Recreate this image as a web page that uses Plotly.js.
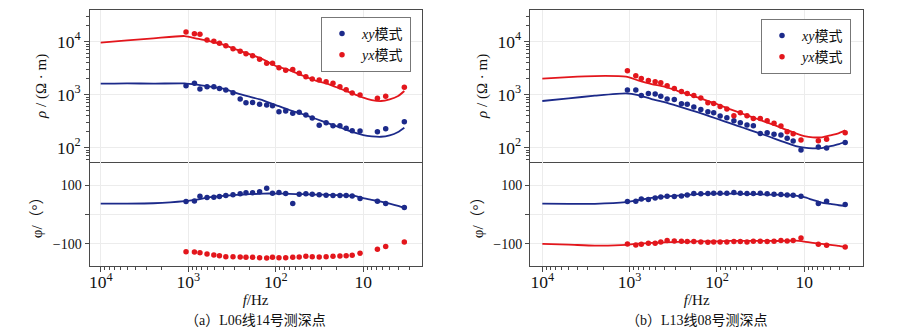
<!DOCTYPE html>
<html><head><meta charset="utf-8">
<script src="https://cdn.plot.ly/plotly-3.0.1.min.js"></script>
<style>html,body{margin:0;padding:0;background:#fff}#chart{width:900px;height:331px}</style>
</head><body><div id="chart"></div>
<script>
// measured frequencies (Hz)
const freq = [1060, 850, 735, 610, 510, 440, 372, 308, 255, 219, 184, 153, 127, 109, 92, 77, 64, 54, 45.3, 38.3, 31.9, 26.6, 22.2, 18.5, 15.7, 13.4, 10.9, 6.9, 5.55, 3.4];
// model frequencies (Hz)
const freqModel = [10000, 5000, 2500, 1100, 800, 560, 400, 280, 200, 140, 100, 70, 50, 35, 25, 18, 12.5, 10, 8, 6.3, 5, 4, 3.4];

// (a) L06-14
const aRhoXY = [1480, 1640, 1280, 1415, 1415, 1315, 1225, 1090, 828, 706, 716, 657, 638, 620, 477, 492, 445, 465, 413, 363, 264, 296, 260, 260, 232, 209, 206, 200, 228, 310];
const aRhoYX = [15200, 14150, 13750, 10750, 10150, 9300, 8400, 7390, 6570, 5940, 5450, 4640, 3900, 3900, 3230, 2880, 3000, 2530, 2190, 1980, 1890, 1760, 1640, 1415, 1240, 1075, 985, 853, 930, 1375];
const aPhiXY = [44.3, 46.6, 62.5, 58.0, 59.1, 61.4, 64.8, 67.1, 70.5, 73.9, 73.9, 77.3, 89.8, 72.7, 75.0, 71.6, 37.5, 69.3, 70.5, 69.3, 67.1, 65.9, 64.8, 64.8, 64.8, 63.6, 54.6, 45.5, 37.5, 23.9];
const aPhiYX = [-126.1, -127.3, -129.5, -134.0, -137.4, -139.7, -143.1, -143.1, -144.3, -145.5, -145.5, -146.6, -147.7, -145.5, -146.6, -146.6, -145.5, -144.3, -142.0, -143.1, -144.3, -143.1, -142.0, -140.9, -139.7, -138.6, -131.8, -118.1, -109.0, -93.1];
const aModRhoXY = [1614, 1637, 1614, 1637, 1545, 1415, 1298, 1074, 916, 782, 638, 514, 432, 352, 288, 238, 192, 173, 164, 161, 171, 198, 238];
const aModRhoYX = [9580, 10600, 11560, 12790, 11390, 10150, 8770, 7060, 5850, 4640, 3480, 2920, 2320, 1840, 1590, 1280, 1015, 877, 793, 760, 817, 944, 1173];
const aModPhiXY = [37.5, 37.5, 38.6, 45.5, 51.1, 59.1, 63.6, 67.0, 69.3, 71.6, 71.6, 70.5, 69.3, 68.2, 67.0, 65.9, 63.6, 55.7, 50.0, 44.3, 37.5, 29.6, 22.7];

// (b) L13-08
const bRhoXY = [1225, 1225, 970, 1059, 1030, 931, 829, 816, 676, 657, 585, 528, 477, 457, 395, 368, 323, 296, 268, 260, 186, 192, 179, 173, 150, 134, 90.4, 103, 98.6, 126];
const bRhoYX = [2840, 2280, 2030, 1862, 1757, 1683, 1478, 1316, 1155, 1059, 970, 865, 706, 686, 602, 537, 402, 457, 402, 357, 357, 323, 288, 256, 200, 184, 140, 136, 144, 192];
const bPhiXY = [44.3, 45.5, 53.4, 51.1, 56.8, 60.2, 62.5, 61.4, 63.6, 67.0, 71.6, 70.5, 71.6, 72.7, 72.7, 72.7, 75.0, 72.7, 71.6, 71.6, 72.7, 70.5, 69.3, 68.2, 67.0, 65.9, 62.5, 37.5, 45.5, 34.1];
const bPhiYX = [-100.0, -103.4, -101.1, -97.7, -97.7, -93.2, -88.6, -89.8, -90.9, -92.0, -92.0, -93.2, -94.3, -93.2, -93.2, -93.2, -92.0, -92.0, -93.2, -90.9, -90.9, -92.0, -90.9, -88.6, -89.8, -88.6, -79.5, -101.1, -104.5, -110.2];
const bModRhoXY = [760, 853, 957, 1059, 986, 829, 727, 611, 514, 426, 352, 288, 238, 195, 161, 132, 107, 100, 97, 98.5, 107, 117, 128];
const bModRhoYX = [2005, 2150, 2250, 2188, 1862, 1588, 1415, 1172, 986, 805, 667, 528, 432, 352, 288, 235, 186, 166, 157, 157, 171, 189, 212];
const bModPhiXY = [37.5, 36.4, 36.4, 42.1, 48.9, 56.8, 61.4, 64.8, 68.2, 70.5, 71.6, 71.6, 70.5, 69.3, 68.2, 67.0, 64.8, 59.1, 50.0, 40.9, 36.4, 31.8, 29.6];
const bModPhiYX = [-100.0, -102.3, -105.6, -103.4, -98.9, -96.6, -94.3, -93.2, -92.0, -90.9, -90.9, -89.8, -89.8, -89.8, -89.8, -89.8, -88.6, -92.0, -96.6, -100.0, -103.4, -106.8, -110.2];

const seriesNames = ['<i>xy</i>模式', '<i>yx</i>模式'];
const captions = ['（a）L06线14号测深点', '（b）L13线08号测深点'];
const phiTickVals = [-100, 100];
const phiTickText = ['−100', '100'];

const BLUE = '#1c2a8a', RED = '#e3161c';
const FONT = 'Liberation Serif, Times New Roman, Noto Sans CJK SC, serif';

function pts(x, y, xa, ya, color, name, legend, show) {
  return {x: x, y: y, xaxis: xa, yaxis: ya, type: 'scatter', mode: 'markers', name: name,
    marker: {color: color, size: 5.5}, showlegend: show, legend: legend, hoverinfo: 'skip'};
}
function line(x, y, xa, ya, color) {
  return {x: x, y: y, xaxis: xa, yaxis: ya, type: 'scatter', mode: 'lines',
    line: {color: color, width: 1.8, shape: 'spline', smoothing: 0.6}, showlegend: false, hoverinfo: 'skip'};
}

const data = [
  line(freqModel, aModRhoXY, 'x', 'y', BLUE),
  line(freqModel, aModRhoYX, 'x', 'y', RED),
  pts(freq, aRhoXY, 'x', 'y', BLUE, seriesNames[0], 'legend', true),
  pts(freq, aRhoYX, 'x', 'y', RED, seriesNames[1], 'legend', true),
  line(freqModel, aModPhiXY, 'x2', 'y2', BLUE),
  pts(freq, aPhiXY, 'x2', 'y2', BLUE, seriesNames[0], 'legend', false),
  pts(freq, aPhiYX, 'x2', 'y2', RED, seriesNames[1], 'legend', false),

  line(freqModel, bModRhoXY, 'x3', 'y3', BLUE),
  line(freqModel, bModRhoYX, 'x3', 'y3', RED),
  pts(freq, bRhoXY, 'x3', 'y3', BLUE, seriesNames[0], 'legend2', true),
  pts(freq, bRhoYX, 'x3', 'y3', RED, seriesNames[1], 'legend2', true),
  line(freqModel, bModPhiXY, 'x4', 'y4', BLUE),
  line(freqModel, bModPhiYX, 'x4', 'y4', RED),
  pts(freq, bPhiXY, 'x4', 'y4', BLUE, seriesNames[0], 'legend2', false),
  pts(freq, bPhiYX, 'x4', 'y4', RED, seriesNames[1], 'legend2', false)
];

const LINEC = '#4a4a4a', GRIDC = '#ececec';
const TICKFONT = {family: FONT, size: 14, color: '#111'};
const TITLEFONT = {family: FONT, size: 15, color: '#111'};

function xAxis(domain, range, anchor, bottom) {
  const a = {type: 'log', domain: domain, range: range, anchor: anchor, autorange: false,
    showline: true, linecolor: LINEC, linewidth: 1,
    showgrid: true, gridcolor: GRIDC, gridwidth: 1, zeroline: false,
    tickmode: 'linear', tick0: 0, dtick: 1, exponentformat: 'power', tickfont: TICKFONT, automargin: false};
  if (bottom) {
    a.mirror = false;
    a.ticks = 'outside'; a.ticklen = 5; a.tickcolor = LINEC;
    a.ticklabelstandoff = -4;
    a.minor = {ticks: 'outside', ticklen: 3, tickcolor: LINEC, dtick: 'D1', showgrid: false};
    a.title = {text: '<i>f</i>/Hz', font: TITLEFONT, standoff: 0};
  } else {
    a.mirror = true;
    a.ticks = ''; a.showticklabels = false;
  }
  return a;
}
function rhoAxis(domain, anchor) {
  return {type: 'log', domain: domain, range: [1.736, 4.598], anchor: anchor, autorange: false,
    showline: true, mirror: true, linecolor: LINEC, linewidth: 1,
    showgrid: true, gridcolor: GRIDC, zeroline: false,
    tickmode: 'linear', tick0: 0, dtick: 1, exponentformat: 'power',
    ticks: 'outside', ticklen: 5, tickcolor: LINEC,
    minor: {ticks: 'outside', ticklen: 3, tickcolor: LINEC, dtick: 'D1', showgrid: false},
    tickfont: TICKFONT, automargin: false,
    title: {text: '<i>ρ</i> / (Ω · m)', font: TITLEFONT, standoff: 6}};
}
function phiAxis(domain, anchor) {
  return {domain: domain, range: [-175, 180], anchor: anchor, autorange: false,
    showline: true, mirror: true, linecolor: LINEC, linewidth: 1,
    showgrid: true, gridcolor: GRIDC, zeroline: true, zerolinecolor: GRIDC, zerolinewidth: 1,
    tickmode: 'array', tickvals: phiTickVals, ticktext: phiTickText,
    ticks: 'outside', ticklen: 4, tickcolor: LINEC,
    minor: {ticks: 'outside', ticklen: 4, tickcolor: LINEC, tickmode: 'linear', tick0: 0, dtick: 100, showgrid: false},
    tickfont: TICKFONT, automargin: false,
    title: {text: 'φ/（°）', font: TITLEFONT, standoff: 6}};
}

const H = 331, W = 900;
const topDom = [1 - 161.7 / H, 1 - 10 / H];
const botDom = [1 - 266 / H, 1 - 161.7 / H];
const leftDom = [89.5 / W, 421.7 / W];
const rightDom = [530 / W, 863.3 / W];

const legendStyle = (x, y) => ({x: x, y: y, xanchor: 'right', yanchor: 'top', xref: 'paper', yref: 'paper',
  bgcolor: '#fff', bordercolor: '#777', borderwidth: 1, font: {family: FONT, size: 14, color: '#111'},
  tracegroupgap: 0, itemwidth: 30});

const layout = {
  width: W, height: H, margin: {l: 0, r: 0, t: 0, b: 0},
  paper_bgcolor: '#fff', plot_bgcolor: '#fff',
  font: {family: FONT, size: 14, color: '#111'},
  xaxis: xAxis(leftDom, [4.128, 0.333], 'y', false),
  yaxis: rhoAxis(topDom, 'x'),
  xaxis2: xAxis(leftDom, [4.128, 0.333], 'y2', true),
  yaxis2: phiAxis(botDom, 'x2'),
  xaxis3: xAxis(rightDom, [4.141, 0.324], 'y3', false),
  yaxis3: rhoAxis(topDom, 'x3'),
  xaxis4: xAxis(rightDom, [4.141, 0.324], 'y4', true),
  yaxis4: phiAxis(botDom, 'x4'),
  legend: legendStyle(411 / W, 1 - 17 / H),
  legend2: legendStyle(851 / W, 1 - 19 / H),
  annotations: [
    {text: captions[0], x: (leftDom[0] + leftDom[1]) / 2, y: 1 - 320 / H, xref: 'paper', yref: 'paper',
      xanchor: 'center', yanchor: 'middle', showarrow: false, font: {family: FONT, size: 14, color: '#111'}},
    {text: captions[1], x: (rightDom[0] + rightDom[1]) / 2, y: 1 - 320 / H, xref: 'paper', yref: 'paper',
      xanchor: 'center', yanchor: 'middle', showarrow: false, font: {family: FONT, size: 14, color: '#111'}}
  ]
};

Plotly.newPlot('chart', data, layout, {staticPlot: true, displayModeBar: false});
</script>
</body></html>
